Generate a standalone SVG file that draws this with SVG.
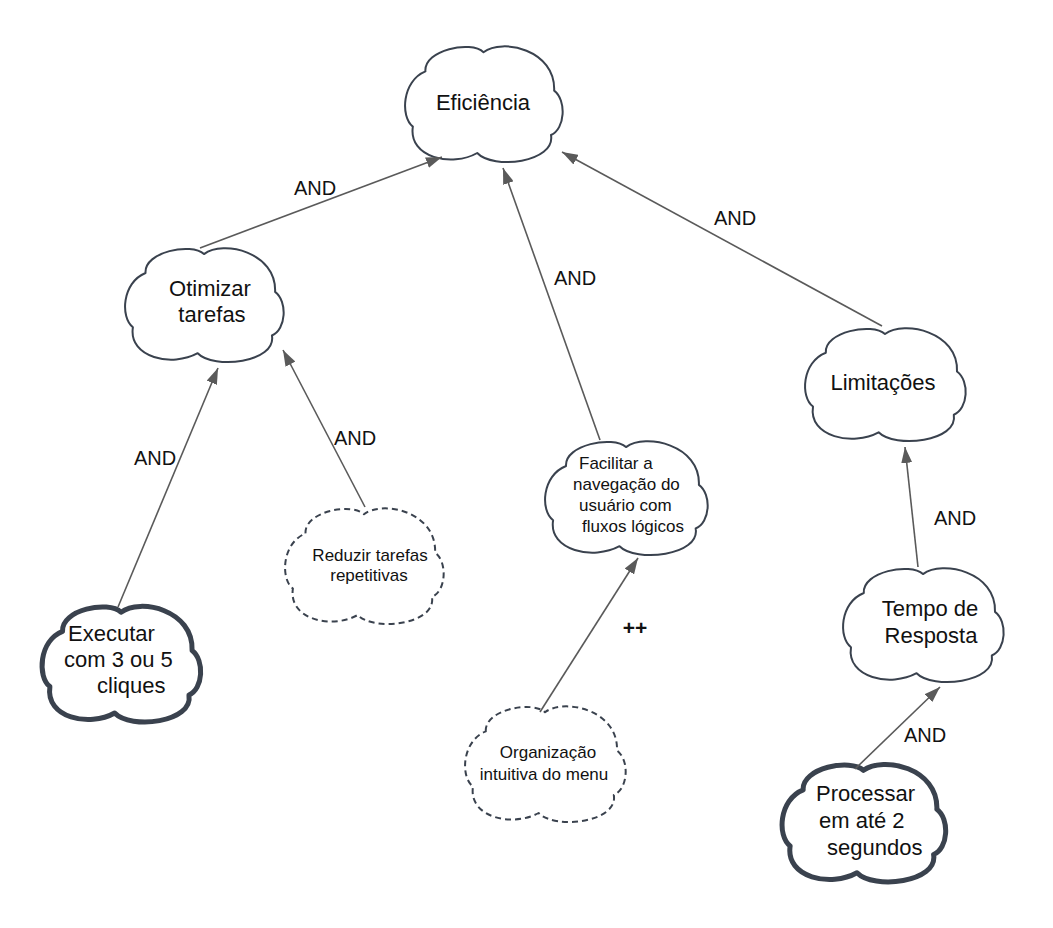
<svg xmlns="http://www.w3.org/2000/svg" width="1053" height="928" viewBox="0 0 1053 928">
<style>
.cloud{fill:#ffffff;stroke:#3a424e;stroke-width:2;stroke-linejoin:round;vector-effect:non-scaling-stroke}
.thick{stroke-width:5}
.dashed{stroke-dasharray:6 4}
.t21{font-family:"Liberation Sans",Arial,sans-serif;font-size:22px;fill:#111}
.t16{font-family:"Liberation Sans",Arial,sans-serif;font-size:17px;fill:#111}
.lbl{font-family:"Liberation Sans",Arial,sans-serif;font-size:20px;fill:#111;text-anchor:middle}
.pp{font-size:21px;font-weight:bold}
.mid{text-anchor:middle}
.edge{stroke:#5a5a5a;stroke-width:1.6;fill:none;marker-end:url(#arr)}
</style>
<defs>
<marker id="arr" viewBox="0 0 16 11" refX="16" refY="5.5" markerWidth="16" markerHeight="11" markerUnits="userSpaceOnUse" orient="auto">
<path d="M0,0 L16,5.5 L0,11 Z" fill="#5a5a5a"/>
</marker>
</defs>
<rect width="1053" height="928" fill="#ffffff"/>

<g id="eficiencia">
<path class="cloud" transform="translate(405,45) scale(1.57,1.2)" d="M 13 22 C 12 4, 42 -4, 50 6 C 62 -6, 96 4, 95 38 C 103 46, 102 70, 93 75 C 96 98, 56 104, 46 90 C 30 102, 2 94, 5 68 C -3 60, -2 30, 13 22 Z"/>
<text class="t21 mid" x="483" y="110">Eficiência</text>
</g>

<g id="otimizar">
<path class="cloud" transform="translate(125,247) scale(1.58,1.18)" d="M 13 22 C 12 4, 42 -4, 50 6 C 62 -6, 96 4, 95 38 C 103 46, 102 70, 93 75 C 96 98, 56 104, 46 90 C 30 102, 2 94, 5 68 C -3 60, -2 30, 13 22 Z"/>
<text class="t21 mid" x="210" y="296">Otimizar</text>
<text class="t21 mid" x="212" y="322">tarefas</text>
</g>

<g id="reduzir">
<path class="cloud dashed" transform="translate(285,507) scale(1.58,1.2)" d="M 13 22 C 12 4, 42 -4, 50 6 C 62 -6, 96 4, 95 38 C 103 46, 102 70, 93 75 C 96 98, 56 104, 46 90 C 30 102, 2 94, 5 68 C -3 60, -2 30, 13 22 Z"/>
<text class="t16 mid" x="370" y="561">Reduzir tarefas</text>
<text class="t16 mid" x="369" y="581">repetitivas</text>
</g>

<g id="executar">
<path class="cloud thick" transform="translate(42,605) scale(1.58,1.2)" d="M 13 22 C 12 4, 42 -4, 50 6 C 62 -6, 96 4, 95 38 C 103 46, 102 70, 93 75 C 96 98, 56 104, 46 90 C 30 102, 2 94, 5 68 C -3 60, -2 30, 13 22 Z"/>
<text class="t21" x="68" y="641">Executar</text>
<text class="t21" x="64" y="667">com 3 ou 5</text>
<text class="t21" x="97" y="693">cliques</text>
</g>

<g id="facilitar">
<path class="cloud" transform="translate(545,440) scale(1.62,1.18)" d="M 13 22 C 12 4, 42 -4, 50 6 C 62 -6, 96 4, 95 38 C 103 46, 102 70, 93 75 C 96 98, 56 104, 46 90 C 30 102, 2 94, 5 68 C -3 60, -2 30, 13 22 Z"/>
<text class="t16" x="579" y="469">Facilitar a</text>
<text class="t16" x="573" y="490">navegação do</text>
<text class="t16" x="579" y="511">usuário com</text>
<text class="t16" x="582" y="532">fluxos lógicos</text>
</g>

<g id="organizacao">
<path class="cloud dashed" transform="translate(465,705) scale(1.6,1.2)" d="M 13 22 C 12 4, 42 -4, 50 6 C 62 -6, 96 4, 95 38 C 103 46, 102 70, 93 75 C 96 98, 56 104, 46 90 C 30 102, 2 94, 5 68 C -3 60, -2 30, 13 22 Z"/>
<text class="t16 mid" x="548" y="758">Organização</text>
<text class="t16 mid" x="544" y="780">intuitiva do menu</text>
</g>

<g id="limitacoes">
<path class="cloud" transform="translate(805,327) scale(1.6,1.17)" d="M 13 22 C 12 4, 42 -4, 50 6 C 62 -6, 96 4, 95 38 C 103 46, 102 70, 93 75 C 96 98, 56 104, 46 90 C 30 102, 2 94, 5 68 C -3 60, -2 30, 13 22 Z"/>
<text class="t21 mid" x="883" y="390">Limitações</text>
</g>

<g id="tempo">
<path class="cloud" transform="translate(843,567) scale(1.6,1.18)" d="M 13 22 C 12 4, 42 -4, 50 6 C 62 -6, 96 4, 95 38 C 103 46, 102 70, 93 75 C 96 98, 56 104, 46 90 C 30 102, 2 94, 5 68 C -3 60, -2 30, 13 22 Z"/>
<text class="t21 mid" x="930" y="616">Tempo de</text>
<text class="t21 mid" x="931" y="643">Resposta</text>
</g>

<g id="processar">
<path class="cloud thick" transform="translate(782,763) scale(1.63,1.22)" d="M 13 22 C 12 4, 42 -4, 50 6 C 62 -6, 96 4, 95 38 C 103 46, 102 70, 93 75 C 96 98, 56 104, 46 90 C 30 102, 2 94, 5 68 C -3 60, -2 30, 13 22 Z"/>
<text class="t21" x="816" y="801">Processar</text>
<text class="t21" x="819" y="828">em até 2</text>
<text class="t21" x="827" y="855">segundos</text>
</g>

<g id="connectors">
<line class="edge" x1="200" y1="248" x2="442" y2="157"/>
<line class="edge" x1="600" y1="440" x2="503" y2="168"/>
<line class="edge" x1="882" y1="326" x2="562" y2="152"/>
<line class="edge" x1="118" y1="607" x2="218" y2="368"/>
<line class="edge" x1="365" y1="507" x2="283" y2="350"/>
<line class="edge" x1="540" y1="712" x2="638" y2="558"/>
<line class="edge" x1="918" y1="567" x2="905" y2="447"/>
<line class="edge" x1="855" y1="769" x2="940" y2="687"/>
<text class="lbl" x="315" y="195">AND</text>
<text class="lbl" x="575" y="285">AND</text>
<text class="lbl" x="735" y="225">AND</text>
<text class="lbl" x="155" y="465">AND</text>
<text class="lbl" x="355" y="445">AND</text>
<text class="lbl" x="955" y="525">AND</text>
<text class="lbl" x="925" y="742">AND</text>
<text class="lbl pp" x="635" y="635">++</text>
</g>
</svg>
